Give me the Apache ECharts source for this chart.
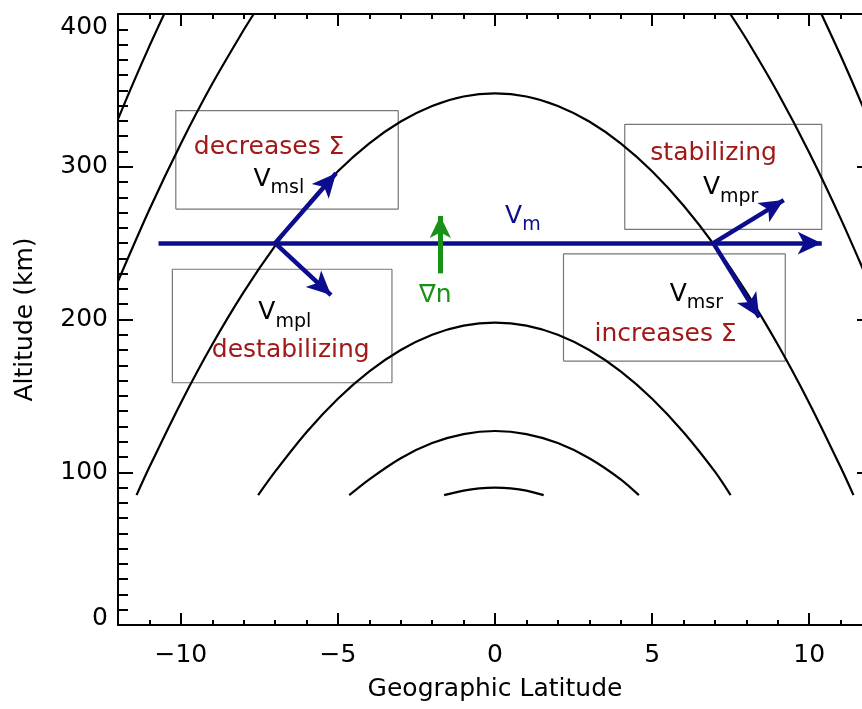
<!DOCTYPE html>
<html><head><meta charset="utf-8">
<script src="https://cdn.jsdelivr.net/npm/echarts@6/dist/echarts.min.js"></script>
<style>html,body{margin:0;padding:0;background:#fff}#c{width:862px;height:709px}</style>
</head><body><div id="c"></div>
<script>
// ---- field-line curves (latitude, altitude km) ----
const curveAX = [-11.41,-11,-10,-9,-8,-7,-6,-5,-4,-3,-2,-1,0,1,2,3,4,5,6,7,8,9,10,11,11.41];
const curveAY = [85,103.4,145.4,183.6,217.9,248.2,274.6,297.0,315.3,329.6,339.8,346.0,348,346.0,339.8,329.6,315.3,297.0,274.6,248.2,217.9,183.6,145.4,103.4,85];
const curveBX = [-7.54,-7,-6,-5,-4,-3,-2,-1,0,1,2,3,4,5,6,7,7.5];
const curveBY = [85,100.4,126.2,148.1,166.0,180.0,190.0,196.0,198,196.0,190.0,180.0,166.0,148.1,126.2,100.4,85];
const curveCX = [-4.64,-4,-3,-2,-1,0,1,2,3,4,4.58];
const curveCY = [85,95.4,109.2,119.1,125.0,127,125.0,119.1,109.2,95.4,85];
const curveDX = [-1.62,-1,-0.5,0,0.5,1,1.55];
const curveDY = [85,88.0,89.5,90,89.5,88.0,85];
const curveEX = [-12,-11.5,-11,-10.53];
const curveEY = [331.2,355.6,379.0,400];
const curveFX = [-12,-11,-10,-9,-8,-7.68];
const curveFY = [225.0,272.0,315.1,354.3,389.5,400];
const curveGX = [7.49,8,9,10,11,12];
const curveGY = [400,383.6,348.4,309.3,266.2,219.3];
const curveHX = [10.39,11,11.5,12];
const curveHY = [400,372.8,349.4,325.1];

// ---- boxes ----
const boxX0 = [-10.16,-10.27,4.13,2.18];
const boxX1 = [-3.08,-3.28,10.40,9.24];
const boxY0 = [272.3,158.6,259.0,172.8];
const boxY1 = [336.7,232.9,327.8,242.9];

// ---- arrows ----
const blueFrom = [[-10.71,250],[-7.0,250],[-7.0,250],[6.95,250],[6.95,250]];
const blueTo   = [[10.40,250],[-5.06,295.7],[-5.22,216.0],[9.19,278.2],[8.41,201.4]];
const greenFrom = [[-1.74,230.2]];
const greenTo   = [[-1.74,267.8]];

// ---- annotation texts ----
const redTexts = ['decreases \u03A3','destabilizing','stabilizing','increases \u03A3'];
const redX = [-7.19,-6.5,6.96,5.43];
const redY = [312.9,179.4,309.0,190.5];
const vSubs = ['msl','mpl','mpr','msr'];
const vX = [-6.88,-6.69,7.50,6.41];
const vY = [291.7,204.4,286.2,216.4];
const vmText = 'm';
const vmX = 0.886, vmY = 267.7;
const gradText = '\u2207n';
const gradX = -1.90, gradY = 215.8;

// ---- ticks ----
const xMajor = [-10,-5,0,5,10];
const xMin = -12, xMax = 12;
const yMin = 0, yMax = 400, yStep = 100;
const xTitle = 'Geographic Latitude';
const yTitle = 'Altitude (km)';

const FONT = 'DejaVu Sans';
const BLUE = '#0c0c8e', GREEN = '#179217', RED = '#a01818';

const pts = (xs, ys) => xs.map((x, i) => [x, ys[i]]);
const series = [];
[[curveAX,curveAY],[curveBX,curveBY],[curveCX,curveCY],[curveDX,curveDY],
 [curveEX,curveEY],[curveFX,curveFY],[curveGX,curveGY],[curveHX,curveHY]].forEach(([xs,ys]) => {
  series.push({type:'line', data: pts(xs, ys), showSymbol:false, smooth:0.3, silent:true,
    lineStyle:{color:'#000', width:2.2}, z:2});
});
boxX0.forEach((x0, i) => {
  const x1 = boxX1[i], y0 = boxY0[i], y1 = boxY1[i];
  series.push({type:'line', data:[[x0,y0],[x1,y0],[x1,y1],[x0,y1],[x0,y0]], showSymbol:false, silent:true,
    lineStyle:{color:'#777', width:1.2}, z:1});
});
function arrowSeries(from, to, color, width, size) {
  return {type:'line', data:[], silent:true, z:5,
    markLine:{silent:true, animation:false, symbol:['none','arrow'], symbolSize:size,
      label:{show:false}, emphasis:{disabled:true},
      lineStyle:{color:color, width:width, type:'solid', opacity:1},
      data: from.map((f, i) => [{coord:f}, {coord:to[i]}])}};
}
series.push(arrowSeries(blueFrom, blueTo, BLUE, 4.5, [17,24]));
series.push(arrowSeries(greenFrom, greenTo, GREEN, 5, [16,22]));

const rich = {
  vk:{fontSize:25, color:'#000', fontFamily:FONT},
  sk:{fontSize:19, color:'#000', fontFamily:FONT, padding:[18,0,0,0]},
  vb:{fontSize:25, color:BLUE, fontFamily:FONT},
  sb:{fontSize:19, color:BLUE, fontFamily:FONT, padding:[18,0,0,0]}
};
const textData = [];
redTexts.forEach((t, i) => textData.push({value:[redX[i], redY[i]], label:{formatter:t, color:RED}}));
vSubs.forEach((s, i) => textData.push({value:[vX[i], vY[i]], label:{formatter:'{vk|V}{sk|' + s + '}'}}));
textData.push({value:[vmX, vmY], label:{formatter:'{vb|V}{sb|' + vmText + '}'}});
textData.push({value:[gradX, gradY], label:{formatter:gradText, color:GREEN}});
series.push({type:'scatter', data:textData, symbolSize:0, silent:true, z:10,
  itemStyle:{opacity:1},
  label:{show:true, position:'inside', fontSize:25, fontFamily:FONT, color:'#000',
    textBorderWidth:0, opacity:1, rich:rich}});

const tickStyle = {color:'#000', width:2};
const lineStyle = {color:'#000', width:2};
const fmtX = v => v < 0 ? '\u2212' + Math.abs(v) : String(v);
const option = {
  animation:false,
  textStyle:{fontFamily:FONT},
  grid:{left:118, top:14, width:754, height:611, outerBoundsMode:'none', containLabel:false},
  xAxis:[
    {type:'value', position:'bottom', min:xMin, max:xMax, interval:1,
      axisLine:{onZero:false, lineStyle}, axisTick:{inside:true, length:5, lineStyle:tickStyle},
      axisLabel:{show:false}, splitLine:{show:false}},
    {type:'value', position:'bottom', min:xMin, max:xMax, interval:1,
      axisLine:{show:false, onZero:false}, axisTick:{inside:true, length:12, lineStyle:tickStyle, customValues:xMajor},
      axisLabel:{customValues:xMajor, formatter:fmtX, fontSize:25, color:'#000', margin:18, fontFamily:FONT},
      splitLine:{show:false},
      name:xTitle, nameLocation:'middle', nameGap:52,
      nameTextStyle:{fontSize:25, color:'#000', fontFamily:FONT}},
    {type:'value', position:'top', min:xMin, max:xMax, interval:1,
      axisLine:{onZero:false, lineStyle}, axisTick:{inside:true, length:5, lineStyle:tickStyle},
      axisLabel:{show:false}, splitLine:{show:false}},
    {type:'value', position:'top', min:xMin, max:xMax, interval:1,
      axisLine:{show:false, onZero:false}, axisTick:{inside:true, length:12, lineStyle:tickStyle, customValues:xMajor},
      axisLabel:{show:false}, splitLine:{show:false}}
  ],
  yAxis:[
    {type:'value', position:'left', min:yMin, max:yMax, interval:yStep,
      axisLine:{onZero:false, lineStyle}, axisTick:{inside:true, length:15, lineStyle:tickStyle},
      minorTick:{show:true, splitNumber:10, length:10, lineStyle:tickStyle},
      axisLabel:{fontSize:25, color:'#000', margin:10, fontFamily:FONT,
        formatter: v => v === yMin ? '{lo|' + v + '}' : (v === yMax ? '{hi|' + v + '}' : String(v)),
        rich:{lo:{fontSize:25, color:'#000', fontFamily:FONT, padding:[0,0,14,0]},
              hi:{fontSize:25, color:'#000', fontFamily:FONT, padding:[26,0,0,0]}}},
      splitLine:{show:false},
      name:yTitle, nameLocation:'middle', nameGap:80,
      nameTextStyle:{fontSize:25, color:'#000', fontFamily:FONT}},
    {type:'value', position:'right', min:yMin, max:yMax, interval:yStep,
      axisLine:{onZero:false, lineStyle}, axisTick:{inside:true, length:15, lineStyle:tickStyle},
      minorTick:{show:true, splitNumber:10, length:10, lineStyle:tickStyle},
      axisLabel:{show:false}, splitLine:{show:false}}
  ],
  series: series
};
const chart = echarts.init(document.getElementById('c'), null, {renderer:'canvas'});
chart.setOption(option);
</script>
</body></html>
